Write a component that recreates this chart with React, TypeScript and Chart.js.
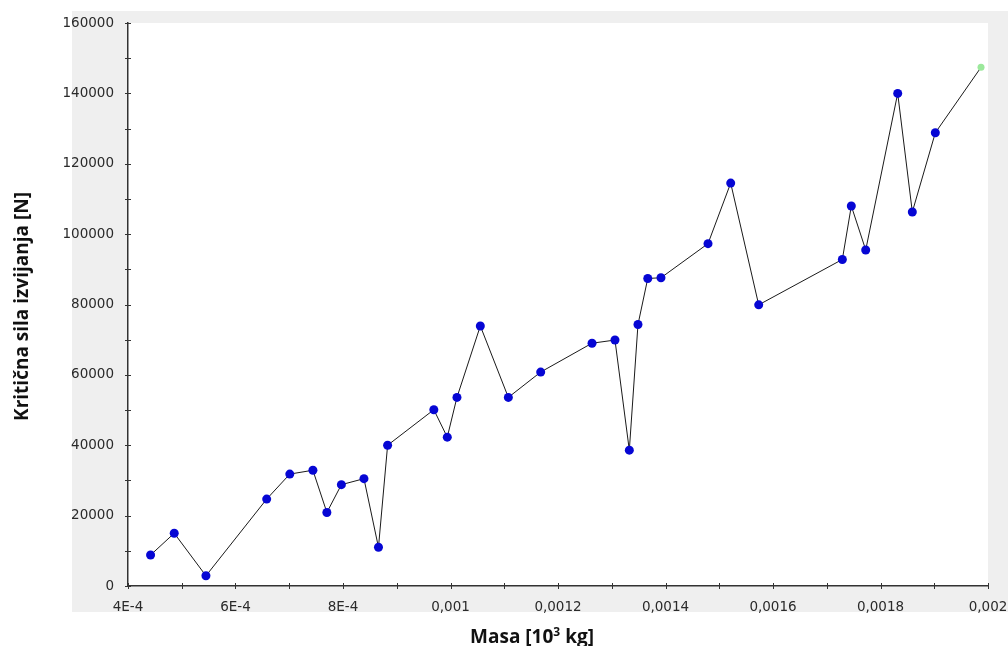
import React, { useEffect, useRef } from "react";
import { Chart, registerables } from "chart.js";

Chart.register(...registerables);

// Mass values [10^3 kg]
const masses: number[] = [
  4.42e-4, 4.86e-4, 5.45e-4, 6.58e-4, 7.01e-4, 7.44e-4, 7.7e-4, 7.97e-4,
  8.39e-4, 8.66e-4, 8.83e-4, 9.69e-4, 9.94e-4, 1.012e-3, 1.0555e-3,
  1.1076e-3, 1.1678e-3, 1.2633e-3, 1.306e-3, 1.3327e-3, 1.3488e-3,
  1.367e-3, 1.3916e-3, 1.4791e-3, 1.5213e-3, 1.5734e-3, 1.729e-3,
  1.7457e-3, 1.7725e-3, 1.832e-3, 1.8592e-3, 1.902e-3, 1.987e-3,
];

// Critical buckling force [N]
const forces: number[] = [
  8800, 15000, 2900, 24700, 31800, 32900, 20900, 28800, 30500, 11000, 40000,
  50100, 42300, 53600, 73900, 53600, 60800, 69000, 69900, 38600, 74300,
  87400, 87600, 97300, 114500, 79900, 92800, 108000, 95500, 140000, 106300,
  128800, 147400,
];

const xTickLabels: string[] = [
  "4E-4", "6E-4", "8E-4", "0,001", "0,0012", "0,0014", "0,0016", "0,0018", "0,002",
];
const yTickLabels: string[] = [
  "0", "20000", "40000", "60000", "80000", "100000", "120000", "140000", "160000",
];

const xMin = 4e-4;
const xMax = 2e-3;
const xMinorStep = 1e-4;
const xLabelStep = 2e-4;
const yMin = 0;
const yMax = 160000;
const yMinorStep = 10000;
const yLabelStep = 20000;

const xTitleMain = "Masa [10";
const xTitleSup = "3";
const xTitleEnd = " kg]";
const yTitle = "Kritična sila izvijanja [N]";

const labelFor = (value: number, min: number, step: number, labels: string[]) => {
  const k = (value - min) / step;
  const r = Math.round(k);
  if (Math.abs(k - r) < 1e-6 && r >= 0 && r < labels.length) return labels[r];
  return "";
};

const panelPlugin = {
  id: "panelBg",
  beforeDraw(chart: any) {
    const { ctx, chartArea } = chart;
    ctx.save();
    ctx.fillStyle = "#efefef";
    ctx.fillRect(chartArea.left - 56, chartArea.top - 12, chart.width - (chartArea.left - 56), chartArea.bottom + 26 - (chartArea.top - 12));
    ctx.fillStyle = "#ffffff";
    ctx.fillRect(chartArea.left, chartArea.top, chartArea.right - chartArea.left, chartArea.bottom - chartArea.top);
    ctx.restore();
  },
};

const tickMarkPlugin = {
  id: "tickMarks",
  afterDraw(chart: any) {
    const { ctx, chartArea } = chart;
    const xs = chart.scales.x;
    const ys = chart.scales.y;
    ctx.save();
    ctx.strokeStyle = "#333333";
    ctx.lineWidth = 1;
    ctx.beginPath();
    xs.ticks.forEach((t: any) => {
      const px = Math.round(xs.getPixelForValue(t.value)) + 0.5;
      ctx.moveTo(px, chartArea.bottom - 3);
      ctx.lineTo(px, chartArea.bottom + 3);
    });
    ys.ticks.forEach((t: any) => {
      const py = Math.round(ys.getPixelForValue(t.value)) + 0.5;
      ctx.moveTo(chartArea.left - 3, py);
      ctx.lineTo(chartArea.left + 3, py);
    });
    ctx.stroke();
    ctx.restore();
  },
};

const titlePlugin = {
  id: "axisTitles",
  afterDraw(chart: any) {
    const { ctx, chartArea } = chart;
    ctx.save();
    ctx.fillStyle = "#111111";
    // x title
    const mainFont = "bold 19px 'Open Sans'";
    const supFont = "bold 12px 'Open Sans'";
    ctx.font = mainFont;
    const w1 = ctx.measureText(xTitleMain).width;
    const w3 = ctx.measureText(xTitleEnd).width;
    ctx.font = supFont;
    const w2 = ctx.measureText(xTitleSup).width;
    const total = w1 + w2 + w3;
    const cx = (chartArea.left + chartArea.right) / 2 - 26;
    const baseY = chartArea.bottom + 57;
    let x = cx - total / 2;
    ctx.textBaseline = "alphabetic";
    ctx.textAlign = "left";
    ctx.font = mainFont;
    ctx.fillText(xTitleMain, x, baseY);
    x += w1;
    ctx.font = supFont;
    ctx.fillText(xTitleSup, x, baseY - 7);
    x += w2;
    ctx.font = mainFont;
    ctx.fillText(xTitleEnd, x, baseY);
    // y title
    ctx.translate(23, (chartArea.top + chartArea.bottom) / 2 + 2);
    ctx.rotate(-Math.PI / 2);
    ctx.textAlign = "center";
    ctx.textBaseline = "middle";
    ctx.font = mainFont;
    ctx.fillText(yTitle, 0, 0);
    ctx.restore();
  },
};

export default function App() {
  const canvasRef = useRef<HTMLCanvasElement | null>(null);

  useEffect(() => {
    if (!canvasRef.current) return;
    const points = masses.map((m, i) => ({ x: m, y: forces[i] }));
    const last = points.length - 1;
    const chart = new Chart(canvasRef.current, {
      type: "scatter",
      data: {
        datasets: [
          {
            data: points,
            showLine: true,
            borderColor: "#1a1a1a",
            borderWidth: 1,
            pointRadius: (c: any) => (c.dataIndex === last ? 3.5 : 4.5),
            pointBackgroundColor: (c: any) => (c.dataIndex === last ? "#9be89b" : "#0606d4"),
            pointBorderWidth: 0,
            pointBorderColor: "rgba(0,0,0,0)",
          },
        ],
      },
      options: {
        responsive: false,
        animation: false,
        layout: { padding: { left: 0, top: 23, right: 20, bottom: 0 } },
        plugins: {
          legend: { display: false },
          tooltip: { enabled: false },
        },
        scales: {
          x: {
            type: "linear",
            min: xMin,
            max: xMax,
            grid: { display: false },
            border: { display: true, color: "#333333", width: 1.5 },
            ticks: {
              stepSize: xMinorStep,
              autoSkip: false,
              maxRotation: 0,
              minRotation: 0,
              padding: 5,
              color: "#2a2a2a",
              font: { family: "DejaVu Sans", size: 13.5 },
              callback: (v: any) => labelFor(Number(v), xMin, xLabelStep, xTickLabels),
            },
            afterFit: (s: any) => {
              s.height = 60;
              s.paddingLeft = 0;
              s.paddingRight = 0;
            },
          },
          y: {
            type: "linear",
            min: yMin,
            max: yMax,
            grid: { display: false },
            border: { display: true, color: "#333333", width: 1.5 },
            ticks: {
              stepSize: yMinorStep,
              autoSkip: false,
              padding: 6,
              color: "#2a2a2a",
              font: { family: "DejaVu Sans", size: 13.5 },
              callback: (v: any) => labelFor(Number(v), yMin, yLabelStep, yTickLabels),
            },
            afterFit: (s: any) => {
              s.width = 128;
              s.paddingTop = 0;
              s.paddingBottom = 0;
            },
          },
        },
      },
      plugins: [panelPlugin, tickMarkPlugin, titlePlugin],
    } as any);
    return () => chart.destroy();
  }, []);

  return (
    <div style={{ position: "absolute", left: 0, top: 0, width: 1008, height: 646, background: "#ffffff" }}>
      <canvas ref={canvasRef} width={1008} height={646} style={{ width: 1008, height: 646 }} />
    </div>
  );
}
